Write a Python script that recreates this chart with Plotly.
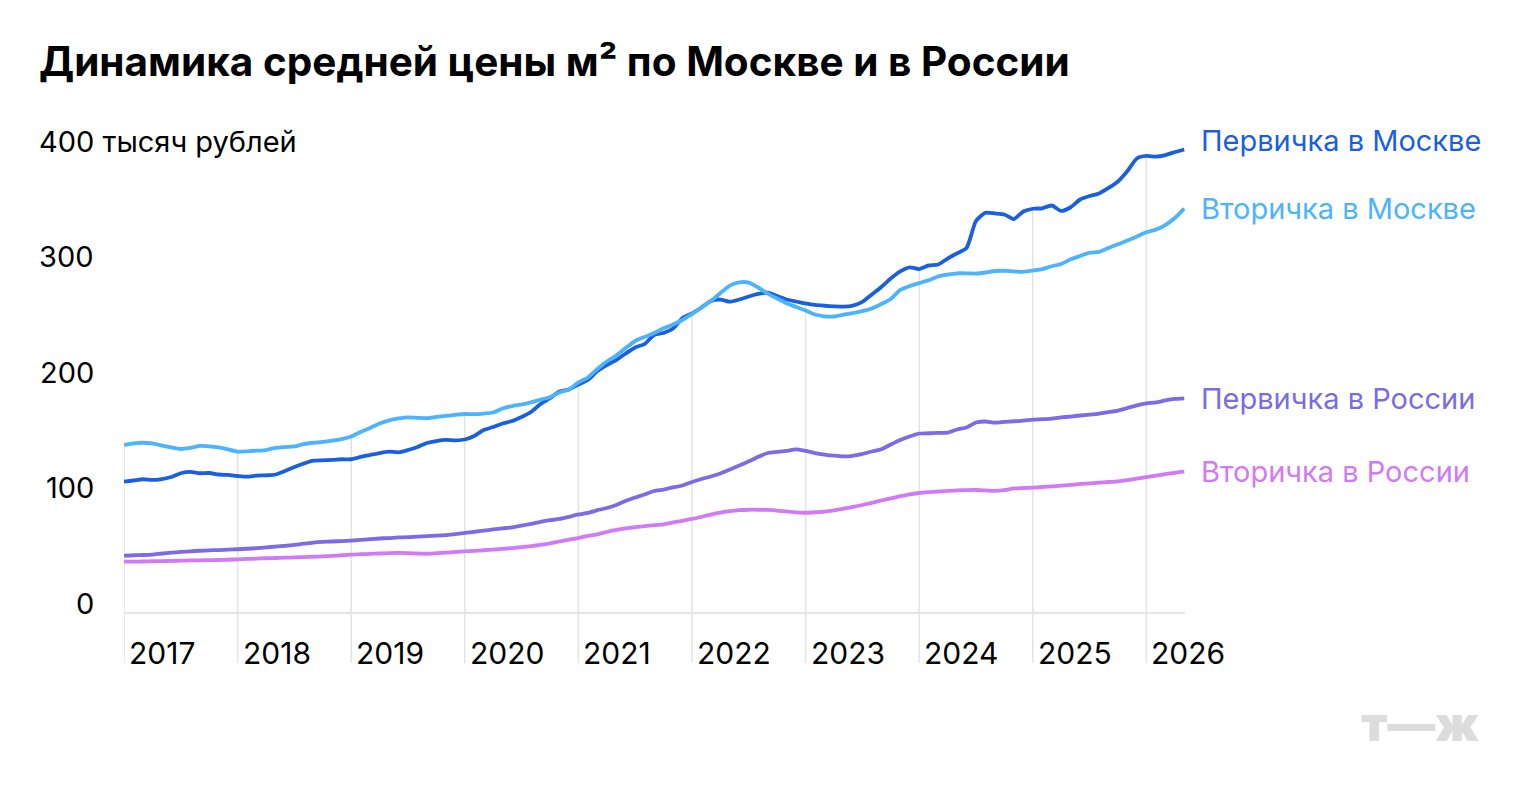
import plotly.graph_objects as go

# ---- data (thousand rubles per m², monthly from Jan 2017) ----
start_year = 2017
n_points = 113
x_years = [start_year + m / 12 for m in range(n_points)]
year_ticks = [2017, 2018, 2019, 2020, 2021, 2022, 2023, 2024, 2025, 2026]
y_labels = [0, 100, 200, 300]
y_top_label = "400 тысяч рублей"

moscow_primary = [
    113.7, 114.7, 115.8, 115.2, 116.0, 117.7, 121.0, 122.1, 121.0, 121.2, 119.9, 119.5,
    118.6, 118.0, 118.9, 119.2, 119.9, 122.9, 126.4, 129.4, 131.9, 132.2, 132.5, 133.1,
    133.1, 135.1, 136.8, 138.5, 139.7, 139.1, 141.1, 143.7, 147.2, 148.9, 149.8, 149.5,
    150.2, 153.2, 158.4, 161.0, 164.1, 166.2, 169.7, 174.0, 181.0, 186.1, 191.8, 193.5,
    197.8, 201.7, 209.5, 214.7, 219.0, 224.7, 229.9, 232.9, 240.7, 242.4, 246.3, 255.4,
    259.3, 264.5, 270.1, 271.4, 269.5, 271.4, 274.0, 276.2, 277.3, 274.5, 271.4, 269.7,
    268.0, 266.7, 266.0, 265.5, 265.2, 266.2, 269.3, 275.8, 282.3, 289.6, 295.7, 299.3,
    297.8, 300.9, 301.7, 306.9, 311.4, 316.0, 339.4, 346.5, 345.9, 345.0, 341.1, 347.6,
    350.0, 350.4, 352.8, 348.1, 351.3, 358.0, 361.0, 363.2, 368.0, 373.6, 382.7, 393.5,
    395.7, 395.1, 396.5, 399.1, 401.3,
]
moscow_secondary = [
    145.5, 146.8, 147.4, 146.8, 145.0, 143.3, 142.0, 142.9, 144.6, 144.2, 143.3, 141.7,
    139.7, 140.0, 140.5, 141.1, 143.0, 143.7, 144.2, 146.3, 147.4, 148.1, 149.2, 150.6,
    152.8, 156.7, 160.2, 164.1, 166.8, 168.4, 169.4, 169.0, 168.6, 169.7, 170.7, 171.6,
    172.3, 172.1, 172.7, 173.6, 177.1, 179.2, 180.5, 182.4, 184.8, 186.8, 190.9, 193.5,
    199.6, 203.9, 211.3, 217.7, 222.9, 229.4, 235.5, 239.0, 242.4, 246.5, 249.8, 253.7,
    258.9, 264.5, 270.1, 277.1, 283.5, 286.3, 286.0, 281.8, 276.6, 272.3, 268.2, 264.9,
    261.9, 258.4, 256.9, 256.7, 258.3, 259.7, 261.3, 263.6, 267.5, 271.9, 279.7, 283.1,
    285.7, 288.1, 291.3, 292.9, 294.1, 294.1, 293.9, 294.8, 296.1, 296.3, 295.7, 295.4,
    296.5, 297.8, 300.2, 302.2, 306.2, 309.1, 311.9, 312.7, 316.0, 319.3, 322.5, 326.0,
    329.6, 331.9, 335.9, 342.0, 350.2,
]
russia_primary = [
    49.6, 50.0, 50.2, 50.6, 51.5, 52.2, 52.9, 53.4, 53.9, 54.2, 54.5, 54.9,
    55.2, 55.6, 56.1, 56.8, 57.5, 58.2, 59.0, 60.0, 60.9, 61.5, 61.9, 62.3,
    62.7, 63.3, 63.9, 64.5, 64.9, 65.4, 65.6, 66.1, 66.5, 66.9, 67.4, 68.2,
    69.3, 70.3, 71.3, 72.3, 73.3, 74.2, 75.6, 77.2, 78.9, 80.3, 81.4, 83.3,
    85.3, 86.6, 89.0, 90.9, 93.5, 97.1, 100.0, 102.6, 105.6, 106.9, 108.7, 110.4,
    113.4, 116.0, 118.2, 120.8, 124.2, 127.7, 131.3, 135.2, 138.5, 139.4, 140.3, 141.7,
    140.3, 138.5, 137.2, 136.2, 135.6, 136.1, 137.7, 139.8, 141.7, 145.9, 149.8, 152.8,
    155.4, 155.6, 156.0, 156.1, 158.9, 160.6, 164.9, 165.8, 164.8, 165.4, 166.0, 166.5,
    167.5, 167.8, 168.3, 169.3, 170.1, 171.0, 171.8, 172.7, 173.9, 175.3, 177.5, 179.7,
    181.4, 182.3, 184.0, 185.3, 185.9,
]
russia_secondary = [
    44.4, 44.5, 44.6, 44.8, 44.9, 45.1, 45.3, 45.5, 45.6, 45.8, 45.9, 46.1,
    46.5, 46.8, 47.0, 47.4, 47.6, 47.9, 48.1, 48.4, 48.7, 49.0, 49.4, 50.0,
    50.6, 50.9, 51.2, 51.5, 51.9, 52.1, 51.9, 51.5, 51.3, 51.8, 52.3, 52.8,
    53.3, 53.8, 54.3, 54.9, 55.5, 56.2, 57.0, 57.9, 59.0, 60.3, 61.9, 63.6,
    64.9, 66.7, 68.1, 70.1, 71.9, 73.3, 74.4, 75.3, 76.0, 76.8, 78.4, 79.8,
    81.4, 83.3, 85.2, 86.8, 88.1, 89.0, 89.4, 89.4, 89.2, 88.7, 87.9, 87.1,
    86.8, 87.2, 87.8, 88.9, 90.3, 91.8, 93.5, 95.4, 97.4, 99.2, 101.1, 102.8,
    103.9, 104.6, 105.2, 105.8, 106.1, 106.4, 106.5, 106.1, 105.7, 106.3, 107.8, 108.2,
    108.6, 109.1, 109.6, 110.2, 110.9, 111.7, 112.2, 112.8, 113.4, 114.0, 115.1, 116.4,
    117.7, 119.0, 120.3, 121.4, 122.3,
]

series_names = ["Первичка в Москве", "Вторичка в Москве", "Первичка в России", "Вторичка в России"]
series_values = [moscow_primary, moscow_secondary, russia_primary, russia_secondary]
series_colors = ["#1a5fdf", "#4cb3ff", "#7b6be6", "#d17af7"]
label_yshift = [9, 0, 0, 0]

TITLE = "Динамика средней цены м² по Москве и в России"
FONT = "Inter"

# ---- layout geometry ----
Y_MIN, Y_MAX = -43.3, 430.3
X_MIN, X_MAX = 2017.0, 2026.34
ML, MR, MT, MB = 124, 335, 116, 131

fig = go.Figure()
for name, vals, col in zip(series_names, series_values, series_colors):
    fig.add_trace(go.Scatter(
        x=x_years, y=vals, mode="lines", name=name,
        line=dict(color=col, width=3.8, shape="spline", smoothing=0.6),
        hoverinfo="skip",
    ))

shapes = []
for yr in year_ticks:
    idx = (yr - start_year) * 12
    top = max(s[idx] for s in series_values)
    shapes.append(dict(type="line", xref="x", yref="y", x0=yr, x1=yr, y0=Y_MIN, y1=top,
                       line=dict(color="#e3e3e3", width=1.5), layer="below"))

ann = []
# title
ann.append(dict(text=TITLE, xref="paper", yref="paper", x=0, y=1, xanchor="left", yanchor="top",
                xshift=37 - ML, yshift=81, showarrow=False,
                font=dict(family=FONT, size=40.5, color="#000000", weight=700)))
# y labels
for v in y_labels:
    ann.append(dict(text=str(v), xref="paper", yref="y", x=0, y=v, xanchor="right", yanchor="bottom",
                    xshift=96 - ML, yshift=-10, showarrow=False,
                    font=dict(family=FONT, size=29, color="#000000")))
ann.append(dict(text=y_top_label, xref="paper", yref="y", x=0, y=400, xanchor="left", yanchor="bottom",
                xshift=37 - ML, yshift=-10, showarrow=False,
                font=dict(family=FONT, size=29, color="#000000")))
# year labels
for yr in year_ticks:
    ann.append(dict(text=str(yr), xref="x", yref="paper", x=yr, y=0, xanchor="left", yanchor="bottom",
                    xshift=3, yshift=-10, showarrow=False,
                    font=dict(family=FONT, size=30, color="#000000")))
# end labels
for name, vals, col, ys in zip(series_names, series_values, series_colors, label_yshift):
    ann.append(dict(text=name, xref="x", yref="y", x=x_years[-1], y=vals[-1], xanchor="left",
                    yanchor="middle", xshift=15, yshift=ys, showarrow=False,
                    font=dict(family=FONT, size=29, color=col)))
# watermark
ann.append(dict(text="т—ж", xref="paper", yref="paper", x=1, y=0, xanchor="right", yanchor="middle",
                xshift=1481 - 1185, yshift=-60, showarrow=False,
                font=dict(family=FONT, size=48, color="#dcdcdc", weight=900)))

fig.update_layout(
    width=1520, height=794,
    margin=dict(l=ML, r=MR, t=MT, b=MB, pad=0),
    paper_bgcolor="#ffffff", plot_bgcolor="#ffffff",
    showlegend=False, hovermode=False,
    xaxis=dict(range=[X_MIN, X_MAX], showgrid=False, zeroline=False, showticklabels=False,
               showline=False, ticks=""),
    yaxis=dict(range=[Y_MIN, Y_MAX], showgrid=False, zeroline=True, zerolinecolor="#e5e5e5",
               zerolinewidth=2, showticklabels=False, showline=False, ticks=""),
    shapes=shapes, annotations=ann,
)

fig.write_html("out.html", config={"displayModeBar": False})
